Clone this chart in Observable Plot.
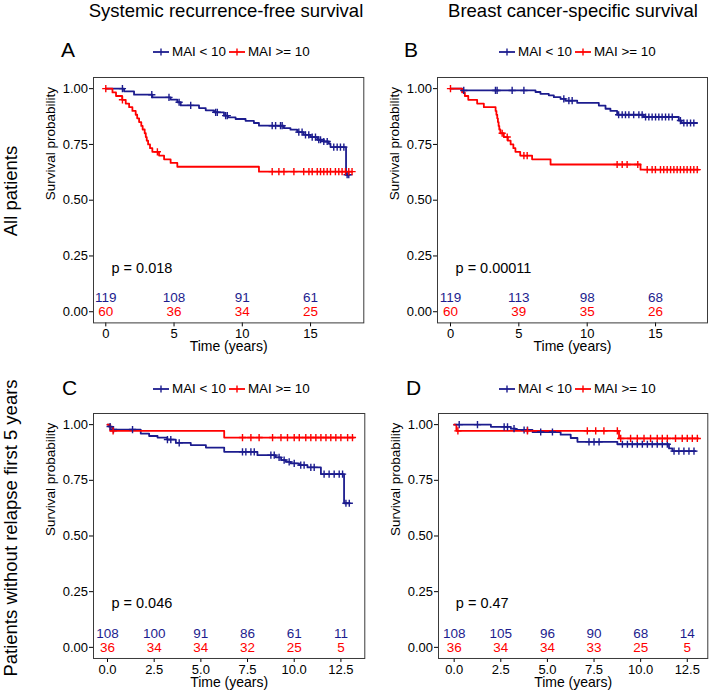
<!DOCTYPE html>
<html><head><meta charset="utf-8">
<script src="https://cdn.jsdelivr.net/npm/d3@7"></script>
<script src="https://cdn.jsdelivr.net/npm/@observablehq/plot@0.6"></script>
<style>
html,body{margin:0;padding:0;background:#fff;}
body{width:709px;height:693px;position:relative;overflow:hidden;font-family:"Liberation Sans",Arial,Helvetica,sans-serif;color:#000;}
.abs{position:absolute;white-space:nowrap;line-height:1;}
.legend{position:absolute;display:flex;align-items:center;font-size:13.4px;line-height:1;white-space:nowrap;}
.legend svg{display:block;}
svg.km g[aria-label*="axis"], svg.km g[aria-label*="axis"] text{font-size:13px !important;font-family:"Liberation Sans",Arial,Helvetica,sans-serif;}
</style>
</head><body>
<script>
// ---------- data ----------
const columnTitles = ["Systemic recurrence-free survival", "Breast cancer-specific survival"];
const rowTitles = ["All patients", "Patients without relapse first 5 years"];
const panelLetters = ["A", "B", "C", "D"];
const groups = ["MAI < 10", "MAI >= 10"];
const pValues = ["p = 0.018", "p = 0.00011", "p = 0.046", "p = 0.47"];
const survTicks = [0, 0.25, 0.5, 0.75, 1];
const timeTicksLong = [0, 5, 10, 15];
const timeTicksShort = [0, 2.5, 5, 7.5, 10, 12.5];

// Panel A: systemic recurrence-free, all patients
const aBlueT = [0, 1.34, 2.07, 3.41, 4.75, 5.24, 5.49, 6.83, 7.32, 7.93, 8.66, 8.95, 9.51, 10.24, 10.85, 11.22, 13.05, 13.53, 14.02, 14.5, 15.0, 15.49, 15.97, 16.34, 16.46, 17.6, 17.8];
const aBlueS = [1, 0.988, 0.973, 0.961, 0.951, 0.939, 0.925, 0.913, 0.903, 0.894, 0.879, 0.871, 0.864, 0.856, 0.846, 0.834, 0.823, 0.816, 0.805, 0.793, 0.783, 0.771, 0.763, 0.753, 0.738, 0.614, 0.614];
const aBlueCens = [1.22, 3.37, 4.63, 5.37, 6.22, 8.05, 8.17, 8.78, 8.9, 12.19, 12.44, 12.8, 12.92, 14.14, 14.38, 14.63, 14.87, 15.12, 15.36, 15.6, 15.73, 15.97, 16.22, 16.7, 16.95, 17.19, 17.44, 17.68, 17.8];
const aRedT = [0, 0.49, 0.75, 1.2, 1.46, 1.71, 1.95, 2.19, 2.3, 2.44, 2.6, 2.7, 2.85, 2.93, 3.0, 3.1, 3.24, 3.41, 3.9, 4.27, 4.75, 5.24, 11.22, 18.04];
const aRedS = [1, 0.983, 0.967, 0.95, 0.933, 0.917, 0.9, 0.883, 0.867, 0.85, 0.833, 0.817, 0.8, 0.783, 0.767, 0.75, 0.733, 0.717, 0.7, 0.683, 0.667, 0.65, 0.628, 0.628];
const aRedCens = [0, 1.22, 3.78, 12.19, 12.68, 13.05, 13.78, 14.5, 14.88, 15.12, 15.49, 15.73, 15.97, 16.22, 16.46, 16.82, 17.07, 17.31, 17.56, 17.8, 18.04];
const aRiskBlue = [119, 108, 91, 61];
const aRiskRed = [60, 36, 34, 25];

// Panel B: breast cancer-specific, all patients
const bBlueT = [0, 0.85, 6.22, 6.58, 7.19, 7.56, 8.05, 8.4, 9.27, 10.85, 11.34, 11.7, 12.19, 14.14, 16.7, 16.9, 18.04];
const bBlueS = [1, 0.992, 0.985, 0.977, 0.97, 0.962, 0.954, 0.946, 0.936, 0.924, 0.91, 0.9, 0.883, 0.873, 0.857, 0.846, 0.846];
const bBlueCens = [0.97, 3.29, 3.41, 4.51, 5.37, 8.29, 8.66, 8.9, 12.3, 12.56, 12.8, 13.05, 13.4, 13.78, 14.02, 14.27, 14.51, 14.75, 15.0, 15.24, 15.48, 15.73, 15.97, 16.22, 16.82, 17.07, 17.31, 17.56, 17.8];
const bRedT = [0, 0.85, 1.05, 1.3, 1.95, 2.44, 3.3, 3.36, 3.42, 3.47, 3.52, 3.57, 3.65, 3.9, 4.2, 4.4, 4.6, 4.75, 5.1, 5.97, 7.32, 13.9, 18.17];
const bRedS = [1, 0.983, 0.967, 0.95, 0.933, 0.917, 0.9, 0.883, 0.867, 0.85, 0.833, 0.817, 0.8, 0.783, 0.767, 0.75, 0.733, 0.717, 0.7, 0.683, 0.66, 0.637, 0.637];
const bRedCens = [0, 3.78, 4.15, 5.37, 5.61, 12.19, 12.56, 12.92, 13.7, 14.39, 14.75, 14.99, 15.36, 15.6, 15.85, 16.1, 16.34, 16.58, 16.82, 17.07, 17.31, 17.56, 17.8, 18.05];
const bRiskBlue = [119, 113, 98, 68];
const bRiskRed = [60, 39, 35, 26];

// Panel C: systemic recurrence-free, no relapse first 5 years
const cBlueT = [0, 0.09, 0.25, 1.78, 2.23, 2.68, 3.2, 3.66, 4.46, 5.27, 6.25, 8.03, 9.01, 9.3, 9.55, 9.82, 10.26, 10.71, 11.43, 12.67, 12.98];
const cBlueS = [1, 0.991, 0.978, 0.96, 0.949, 0.942, 0.933, 0.918, 0.908, 0.897, 0.878, 0.863, 0.853, 0.841, 0.833, 0.826, 0.818, 0.808, 0.778, 0.647, 0.647];
const cBlueCens = [0.14, 0.32, 1.34, 3.21, 3.39, 3.84, 7.23, 7.41, 7.68, 7.86, 8.75, 8.93, 9.19, 9.46, 9.73, 10.0, 10.35, 10.53, 10.89, 11.07, 11.6, 11.87, 12.14, 12.41, 12.59, 12.77, 12.95];
const cRedT = [0, 0.15, 6.25, 13.2];
const cRedS = [1, 0.972, 0.942, 0.942];
const cRedCens = [0.3, 7.23, 7.68, 8.12, 8.84, 9.29, 9.64, 10.0, 10.27, 10.62, 10.89, 11.16, 11.43, 11.7, 11.96, 12.23, 12.5, 12.86, 13.12];
const cRiskBlue = [108, 100, 91, 86, 61, 11];
const cRiskRed = [36, 34, 34, 32, 25, 5];

// Panel D: breast cancer-specific, no relapse first 5 years
const dBlueT = [0, 1.97, 3.04, 3.3, 4.2, 5.71, 6.25, 6.61, 8.75, 11.52, 11.7, 12.95];
const dBlueS = [1, 0.99, 0.982, 0.976, 0.967, 0.955, 0.94, 0.923, 0.912, 0.893, 0.881, 0.881];
const dBlueCens = [0.27, 1.25, 2.68, 2.86, 3.21, 3.75, 3.93, 4.64, 5.27, 7.23, 7.5, 7.77, 9.02, 9.29, 9.55, 9.82, 10.09, 10.36, 10.62, 10.89, 11.16, 11.43, 11.79, 12.05, 12.32, 12.59, 12.86];
const dRedT = [0, 0.12, 8.84, 13.1];
const dRedS = [1, 0.972, 0.938, 0.938];
const dRedCens = [0.2, 3.93, 7.14, 7.59, 8.03, 8.75, 8.93, 9.46, 9.82, 10.18, 10.53, 10.89, 11.16, 11.43, 11.87, 12.23, 12.5, 12.77, 13.04];
const dRiskBlue = [108, 105, 96, 90, 68, 14];
const dRiskRed = [36, 34, 34, 33, 25, 5];

// ---------- styling / layout ----------
const BLUE = "#1c1c8e";
const RED = "#ff0000";
const FONT = "Liberation Sans, Arial, Helvetica, sans-serif";

function stepAt(T, S, t) { let v = S[0]; for (let i = 0; i < T.length; i++) if (T[i] <= t) v = S[i]; return v; }
const plusSymbol = { draw(ctx, size) { const r = Math.sqrt(size / Math.PI); ctx.moveTo(-r, 0); ctx.lineTo(r, 0); ctx.moveTo(0, -r); ctx.lineTo(0, r); } };

const panels = [
  {left: 92.7, top: 77.3, w: 270.3, h: 245.4, xDomain: [-0.9, 18.9], xTicks: timeTicksLong, xFmt: d3.format("d"),
   blueT: aBlueT, blueS: aBlueS, blueC: aBlueCens, redT: aRedT, redS: aRedS, redC: aRedCens, riskB: aRiskBlue, riskR: aRiskRed, p: pValues[0], px: 0.42},
  {left: 437, top: 77.3, w: 270, h: 245.4, xDomain: [-0.95, 18.8], xTicks: timeTicksLong, xFmt: d3.format("d"),
   blueT: bBlueT, blueS: bBlueS, blueC: bBlueCens, redT: bRedT, redS: bRedS, redC: bRedCens, riskB: bRiskBlue, riskR: bRiskRed, p: pValues[1], px: 0.37},
  {left: 92.7, top: 413.3, w: 271.3, h: 245, xDomain: [-0.75, 13.78], xTicks: timeTicksShort, xFmt: d3.format(".1f"),
   blueT: cBlueT, blueS: cBlueS, blueC: cBlueCens, redT: cRedT, redS: cRedS, redC: cRedCens, riskB: cRiskBlue, riskR: cRiskRed, p: pValues[2], px: 0.21},
  {left: 437.7, top: 413.3, w: 269.3, h: 245, xDomain: [-0.84, 13.6], xTicks: timeTicksShort, xFmt: d3.format(".1f"),
   blueT: dBlueT, blueS: dBlueS, blueC: dBlueCens, redT: dRedT, redS: dRedS, redC: dRedCens, riskB: dRiskBlue, riskR: dRiskRed, p: pValues[3], px: 0.09}
];

panels.forEach(cfg => {
  const mL = 60, mT = 10, mR = 2, mB = 40;
  const blue = cfg.blueT.map((t, i) => ({t, s: cfg.blueS[i]}));
  const red = cfg.redT.map((t, i) => ({t, s: cfg.redS[i]}));
  const blueC = cfg.blueC.map(t => ({t, s: stepAt(cfg.blueT, cfg.blueS, t)}));
  const redC = cfg.redC.map(t => ({t, s: stepAt(cfg.redT, cfg.redS, t)}));
  const chart = Plot.plot({
    width: mL + cfg.w + mR, height: mT + cfg.h + mB,
    marginLeft: mL, marginTop: mT, marginRight: mR, marginBottom: mB,
    className: "km",
    style: {fontFamily: FONT, fontSize: "13px", background: "transparent", overflow: "visible", color: "#000"},
    x: {domain: cfg.xDomain, ticks: cfg.xTicks, tickFormat: cfg.xFmt, tickSize: 4, tickPadding: 2.2, label: null},
    y: {domain: [-0.05, 1.05], ticks: survTicks, tickFormat: d3.format(".2f"), tickSize: 4, tickPadding: 1.5, label: null},
    marks: [
      Plot.frame({stroke: "#3a3a3a", strokeWidth: 1}),
      Plot.line(blue, {x: "t", y: "s", curve: "step-after", stroke: BLUE, strokeWidth: 1.8}),
      Plot.line(red, {x: "t", y: "s", curve: "step-after", stroke: RED, strokeWidth: 1.8}),
      Plot.dot(blueC, {x: "t", y: "s", symbol: plusSymbol, r: 3.6, stroke: BLUE, fill: "none", strokeWidth: 1.4}),
      Plot.dot(redC, {x: "t", y: "s", symbol: plusSymbol, r: 3.6, stroke: RED, fill: "none", strokeWidth: 1.4}),
      Plot.text(cfg.xTicks, {x: d => d, y: 0.063, text: (d, i) => String(cfg.riskB[i]), fill: BLUE, fontSize: 13.5}),
      Plot.text(cfg.xTicks, {x: d => d, y: 0, text: (d, i) => String(cfg.riskR[i]), fill: RED, fontSize: 13.5}),
      Plot.text([cfg.p], {x: cfg.px, y: 0.196, text: d => d, textAnchor: "start", fontSize: 14.5, fill: "#000"}),
      Plot.text(["Survival probability"], {frameAnchor: "left", rotate: -90, dx: -42.7, text: d => d, fontSize: 13.5, fill: "#000"}),
      Plot.text(["Time (years)"], {frameAnchor: "bottom", dy: 28.5, text: d => d, fontSize: 14, fill: "#000"})
    ]
  });
  chart.classList.add("km");
  chart.style.position = "absolute";
  chart.style.left = (cfg.left - mL) + "px";
  chart.style.top = (cfg.top - mT) + "px";
  chart.style.maxWidth = "none";
  document.body.appendChild(chart);
});

// ---------- text overlays ----------
function addText(txt, css) {
  const d = document.createElement("div");
  d.className = "abs";
  d.textContent = txt;
  Object.assign(d.style, css);
  document.body.appendChild(d);
  return d;
}
const colCenters = [226, 573];
columnTitles.forEach((t, i) => addText(t, {left: colCenters[i] + "px", top: "2px", fontSize: "18.5px", transform: "translateX(-50%)"}));
const rowCenters = [191, 528];
rowTitles.forEach((t, i) => addText(t, {left: "10.5px", top: rowCenters[i] + "px", fontSize: "18.5px", transform: "translate(-50%,-50%) rotate(-90deg)"}));
const letterPos = [[61, 38.7], [404, 38.7], [62, 377], [406, 377]];
panelLetters.forEach((t, i) => addText(t, {left: letterPos[i][0] + "px", top: letterPos[i][1] + "px", fontSize: "21px"}));

function seg(color) {
  return `<svg width="16" height="14" viewBox="0 0 16 14"><line x1="0" y1="7" x2="16" y2="7" stroke="${color}" stroke-width="1.8"/><line x1="8" y1="3.4" x2="8" y2="10.6" stroke="${color}" stroke-width="1.4"/></svg>`;
}
const legendPos = [[153, 45], [499, 45], [153, 381.6], [499, 381.6]];
legendPos.forEach(([x, y]) => {
  const d = document.createElement("div");
  d.className = "legend";
  d.style.left = x + "px"; d.style.top = y + "px";
  d.innerHTML = seg(BLUE) + `<span style="margin:0 3px 0 3px">${groups[0].replace("<", "&lt;")}</span>` + seg(RED) + `<span style="margin-left:3px">${groups[1].replace(">", "&gt;")}</span>`;
  document.body.appendChild(d);
});
</script>
</body></html>
